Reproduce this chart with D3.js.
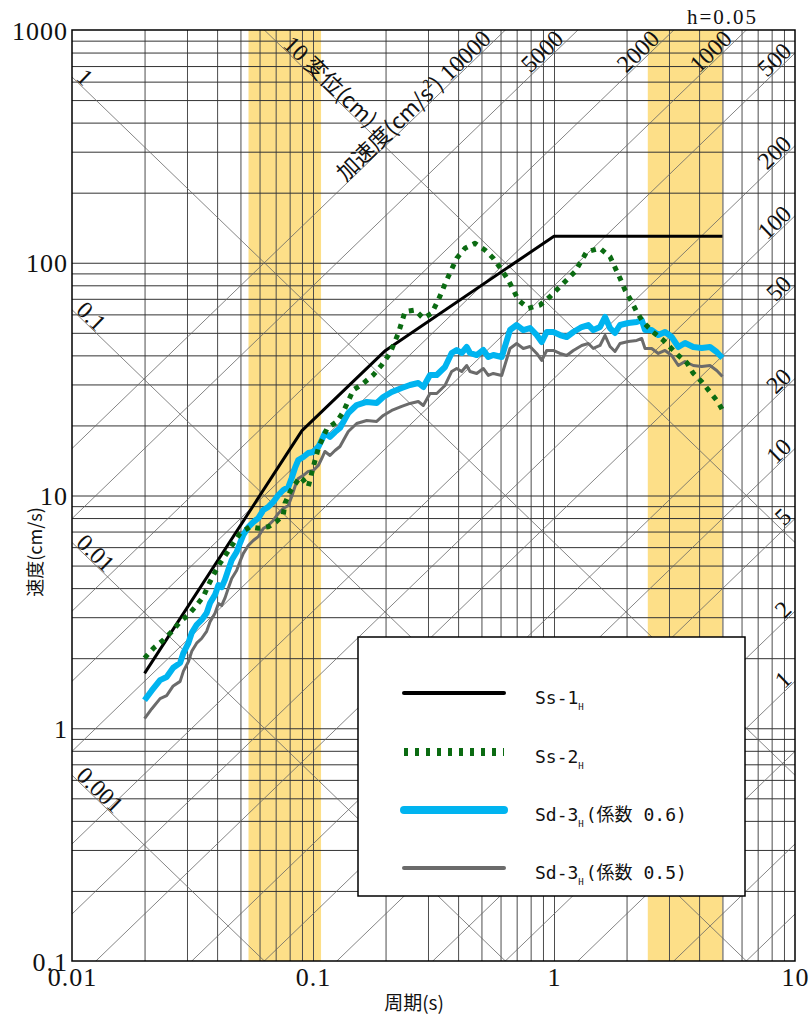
<!DOCTYPE html>
<html><head><meta charset="utf-8">
<script src="https://cdn.jsdelivr.net/npm/d3@7"></script>
<style>body{margin:0;background:#fff}</style>
</head><body>
<svg id="c" width="812" height="1018"></svg>
<script>
// ---------------- data ----------------
const periodSs1 = [0.02, 0.09, 0.2, 1.0, 5.0];
const velSs1    = [1.72, 19.0, 42.0, 130, 130];

const periodSs2 = [0.02,0.0218,0.0239,0.0259,0.0281,0.0304,0.0329,0.0351,0.0368,0.0386,
  0.0411,0.0439,0.0498,0.0548,0.0593,0.0652,0.0702,0.0753,0.0765,0.0803,
  0.0883,0.0912,0.0956,0.1003,0.1052,0.1140,0.1254,0.1336,0.1470,0.1617,
  0.1779,0.1928,0.2087,0.2259,0.2409,0.2650,0.2869,0.3108,0.3311,0.3588,
  0.3947,0.4272,0.4701,0.5171,0.5600,0.6067,0.6462,0.7111,0.7824,0.8749,
  0.9625,1.042,1.129,1.222,1.367,1.552,1.708,1.879,1.971,2.101,
  2.204,2.341,2.575,2.834,3.029,3.270,3.564,3.775,4.113,4.439,4.792,5.0];
const velSs2 = [2.00,2.21,2.39,2.60,2.87,3.07,3.38,3.68,4.12,4.55,
  5.11,5.65,6.88,7.34,7.23,7.34,7.69,8.25,9.26,10.38,
  12.01,11.66,10.91,13.30,15.95,19.31,20.75,22.91,28.40,30.34,
  32.94,36.37,40.83,49.77,61.62,62.66,57.71,60.64,69.17,84.32,
  104.5,115.4,121.2,113.4,104.5,93.06,84.32,69.17,63.72,65.83,
  71.46,77.65,84.32,91.51,111.5,115.4,106.2,85.76,76.36,68.00,
  61.62,55.64,50.41,46.57,43.45,40.14,37.10,33.60,30.73,27.84,25.22,23.29];

const periodSd3 = [0.02,0.0214,0.0232,0.0247,0.0263,0.0281,0.0290,0.0304,0.0314,0.0329,
  0.0345,0.0362,0.0374,0.0392,0.0405,0.0418,0.0431,0.0445,0.0460,0.0482,
  0.0498,0.0514,0.0539,0.0565,0.0593,0.0622,0.0652,0.0684,0.0718,0.0753,
  0.0790,0.0816,0.0842,0.0869,0.0912,0.0956,0.1003,0.1052,0.1087,0.1121,
  0.1176,0.1234,0.1294,0.1401,0.1518,0.1671,0.1838,0.1957,0.2121,0.2334,
  0.2526,0.2735,0.2869,0.3058,0.3261,0.3530,0.3763,0.3947,0.4140,0.4343,
  0.4482,0.4778,0.5088,0.5337,0.5600,0.6067,0.6567,0.7001,0.7457,0.7952,
  0.8478,0.8893,0.9327,0.9933,1.059,1.129,1.203,1.303,1.388,1.456,
  1.552,1.628,1.708,1.791,1.879,2.034,2.204,2.312,2.386,2.544,
  2.709,2.888,3.079,3.280,3.497,3.784,4.102,4.439,4.733,5.0];
const velSd3x06 = [1.32,1.45,1.61,1.66,1.82,1.91,2.11,2.32,2.57,2.78,
  2.92,3.13,3.45,3.74,4.12,4.04,4.34,4.79,5.28,5.72,
  6.25,6.77,7.32,7.69,8.00,8.66,8.93,9.38,10.05,10.56,
  10.88,11.89,13.13,14.21,14.64,15.23,15.38,16.16,17.31,18.56,
  17.84,18.74,19.50,22.61,24.48,25.22,24.98,26.50,27.84,28.97,
  29.84,30.43,29.25,32.94,32.94,35.66,40.95,42.19,40.95,43.45,
  40.95,40.14,42.19,39.36,40.14,39.36,51.40,54.01,51.40,52.43,
  48.93,45.65,50.41,50.41,48.93,47.97,50.41,52.95,54.01,51.40,
  52.95,58.48,52.43,49.91,54.01,55.09,55.64,56.75,51.40,51.40,
  48.93,50.41,47.97,43.45,45.20,43.45,43.02,43.45,41.35,38.96];
const velSd3x05 = [1.10,1.21,1.34,1.38,1.52,1.59,1.76,1.93,2.14,2.32,
  2.43,2.61,2.87,3.12,3.43,3.37,3.62,3.99,4.40,4.76,
  5.21,5.64,6.10,6.41,6.66,7.21,7.44,7.81,8.37,8.80,
  9.06,9.90,10.94,11.84,12.20,12.69,12.81,13.46,14.42,15.46,
  14.86,15.61,16.24,18.83,20.39,21.01,20.81,22.07,23.19,24.13,
  24.86,25.35,24.37,27.44,27.44,29.70,34.11,35.14,34.11,36.19,
  34.11,33.44,35.14,32.79,33.44,32.79,42.82,44.99,42.82,43.67,
  40.76,38.03,41.99,41.99,40.76,39.96,41.99,44.11,44.99,42.82,
  44.11,48.71,43.67,41.57,44.99,45.89,46.35,47.27,42.82,42.82,
  40.76,41.99,39.96,36.19,37.65,36.19,35.84,36.19,34.44,32.45];

const bandRanges = [[0.054, 0.108], [2.45, 5.0]];
const xTickValues = [0.01, 0.1, 1, 10];
const xTickLabels = ["0.01", "0.1", "1", "10"];
const yTickValues = [0.1, 1, 10, 100, 1000];
const yTickLabels = ["0.1", "1", "10", "100", "1000"];
const dispValues = [0.001, 0.01, 0.1, 1, 10];            // cm
const dispLabels = ["0.001", "0.01", "0.1", "1", "10"];
const accValues = [0.1,0.2,0.5,1,2,5,10,20,50,100,200,500,1000,2000,5000,10000]; // cm/s2
const accLabelValues = [1,2,5,10,20,50,100,200,500,1000,2000,5000,10000];
const legendNames = ["Ss-1", "Ss-2", "Sd-3", "Sd-3"];
const legendSuffix = ["", "", "(係数 0.6)", "(係数 0.5)"];

// ---------------- layout ----------------
const M = {left: 72, right: 795, top: 30, bottom: 961};
const x = d3.scaleLog().domain([0.01, 10]).range([M.left, M.right]);
const y = d3.scaleLog().domain([0.1, 1000]).range([M.bottom, M.top]);
const TWO_PI = 2 * Math.PI;
const svg = d3.select("#c");
const SERIF = "'Liberation Serif','DejaVu Serif',serif";
const CJK = "'Noto Sans CJK JP','Noto Sans CJK SC',sans-serif";
const MONO = "'DejaVu Sans Mono','Noto Sans CJK JP',monospace";

svg.append("defs").append("clipPath").attr("id", "clip")
  .append("rect").attr("x", M.left).attr("y", M.top)
  .attr("width", M.right - M.left).attr("height", M.bottom - M.top);
const plot = svg.append("g").attr("clip-path", "url(#clip)");

// bands
plot.selectAll("rect.band").data(bandRanges).enter().append("rect")
  .attr("x", d => x(d[0])).attr("width", d => x(d[1]) - x(d[0]))
  .attr("y", M.top).attr("height", M.bottom - M.top).attr("fill", "#fddf88");

// grid via axes
const gridX = [], gridY = [];
[0.01, 0.1, 1].forEach(dec => { for (let k = 2; k <= 9; k++) gridX.push(k * dec); });
[0.1, 1, 10, 100].forEach(dec => { for (let k = 2; k <= 9; k++) gridY.push(k * dec); });
gridX.push(0.1, 1); gridY.push(1, 10, 100);

const gx = svg.append("g").attr("transform", `translate(0,${M.bottom})`)
  .call(d3.axisBottom(x).tickValues(gridX).tickSize(-(M.bottom - M.top)).tickFormat(""));
gx.select(".domain").remove();
gx.selectAll("line").attr("stroke", "#4d4d4d").attr("stroke-width", 1);
const gy = svg.append("g").attr("transform", `translate(${M.left},0)`)
  .call(d3.axisLeft(y).tickValues(gridY).tickSize(-(M.right - M.left)).tickFormat(""));
gy.select(".domain").remove();
gy.selectAll("line").attr("stroke", "#333").attr("stroke-width", 1);

// tripartite diagonals
const diag = svg.append("g").attr("clip-path", "url(#clip)");
diag.selectAll("line.d").data(dispValues).enter().append("line")
  .attr("x1", x(0.01)).attr("y1", D => y(TWO_PI * D / 0.01))
  .attr("x2", x(10)).attr("y2", D => y(TWO_PI * D / 10))
  .attr("stroke", "#666").attr("stroke-width", 0.8);
diag.selectAll("line.a").data(accValues).enter().append("line")
  .attr("x1", x(0.01)).attr("y1", A => y(A * 0.01 / TWO_PI))
  .attr("x2", x(10)).attr("y2", A => y(A * 10 / TWO_PI))
  .attr("stroke", "#666").attr("stroke-width", 0.8);

// frame
svg.append("rect").attr("x", M.left).attr("y", M.top)
  .attr("width", M.right - M.left).attr("height", M.bottom - M.top)
  .attr("fill", "none").attr("stroke", "#000").attr("stroke-width", 1.5);

// diagonal labels
const ang = Math.atan2(y(10) - y(1), x(1) - x(0.1)) * 180 / Math.PI; // ~ -44
const labG = svg.append("g");
accLabelValues.forEach(A => {
  let ex = M.right - 2;
  let ey = y(A * x.invert(ex) / TWO_PI);
  if (ey - 12.5 < M.top) { ey = M.top + 12.5; ex = x(TWO_PI * y.invert(ey) / A); }
  const t = labG.append("text").attr("transform", `translate(${ex},${ey - 2}) rotate(${ang})`)
    .attr("text-anchor", "end").attr("font-family", SERIF).attr("font-size", 24).attr("fill", "#111");
  if (A === 10000) {
    t.append("tspan").attr("font-family", CJK).attr("font-size", 22).text("加速度(cm/s");
    t.append("tspan").attr("font-family", CJK).attr("font-size", 12).attr("dy", -10).text("2");
    t.append("tspan").attr("font-family", CJK).attr("font-size", 22).attr("dy", 10).text(")");
    t.append("tspan").text(" " + A);
  } else {
    t.text(String(A));
  }
});
dispValues.forEach((D, i) => {
  let bx = M.left + 3;
  let by = y(TWO_PI * D / x.invert(bx));
  if (by < M.top + 17) { by = M.top + 17; bx = x(TWO_PI * D / y.invert(by)); }
  const t = labG.append("text").attr("transform", `translate(${bx},${by - 1}) rotate(${-ang})`)
    .attr("font-family", SERIF).attr("font-size", 24).attr("fill", "#111");
  t.append("tspan").text(dispLabels[i]);
  if (D === 10) t.append("tspan").attr("font-family", CJK).attr("font-size", 22).text(" 変位(cm)");
});

// curves
const line = d3.line().x(d => x(d[0])).y(d => y(d[1]));
const curves = svg.append("g").attr("fill", "none").attr("stroke-linejoin", "round");
curves.append("path").datum(d3.zip(periodSd3, velSd3x05)).attr("d", line)
  .attr("stroke", "#6b6b6b").attr("stroke-width", 3);
curves.append("path").datum(d3.zip(periodSd3, velSd3x06)).attr("d", line)
  .attr("stroke", "#00b4f0").attr("stroke-width", 6);
curves.append("path").datum(d3.zip(periodSs1, velSs1)).attr("d", line)
  .attr("stroke", "#000").attr("stroke-width", 3);
curves.append("path").datum(d3.zip(periodSs2, velSs2)).attr("d", line)
  .attr("stroke", "#0b6b12").attr("stroke-width", 5).attr("stroke-dasharray", "5,6");

// axis labels
const ax = svg.append("g").attr("transform", `translate(0,${M.bottom})`)
  .call(d3.axisBottom(x).tickValues(xTickValues).tickSize(0).tickPadding(0)
    .tickFormat((d, i) => xTickLabels[i]));
ax.select(".domain").remove();
ax.selectAll("text").attr("font-family", SERIF).attr("font-size", 26).attr("fill", "#111")
  .attr("dy", null).attr("y", 25).attr("letter-spacing", 1);
const ay = svg.append("g").attr("transform", `translate(${M.left},0)`)
  .call(d3.axisLeft(y).tickValues(yTickValues).tickSize(0).tickPadding(4)
    .tickFormat((d, i) => yTickLabels[i]));
ay.select(".domain").remove();
ay.selectAll("text").attr("font-family", SERIF).attr("font-size", 26).attr("fill", "#111")
  .attr("dy", "0.35em").attr("letter-spacing", 1);

svg.append("text").attr("x", 414).attr("y", 1010).attr("text-anchor", "middle")
  .attr("font-family", CJK).attr("font-size", 19).attr("fill", "#111").text("周期(s)");
svg.append("text").attr("transform", "translate(42,552) rotate(-90)").attr("text-anchor", "middle")
  .attr("font-family", CJK).attr("font-size", 18).attr("fill", "#111").text("速度(cm/s)");
svg.append("text").attr("x", 687).attr("y", 24).attr("font-family", SERIF).attr("font-size", 21)
  .attr("letter-spacing", 2).attr("fill", "#111").text("h=0.05");

// legend
const lg = svg.append("g");
lg.append("rect").attr("x", 358).attr("y", 637).attr("width", 387).attr("height", 259)
  .attr("fill", "#fff").attr("stroke", "#000").attr("stroke-width", 1.5);
const legY = [693, 752, 810, 868];
const legStyles = [
  {stroke: "#000", w: 4, dash: null, cap: "round"},
  {stroke: "#0b6b12", w: 8, dash: "4,7", cap: "butt"},
  {stroke: "#00b4f0", w: 8, dash: null, cap: "round"},
  {stroke: "#6b6b6b", w: 4, dash: null, cap: "round"}
];
legendNames.forEach((nm, i) => {
  const s = legStyles[i];
  lg.append("line").attr("x1", 404).attr("x2", 504).attr("y1", legY[i]).attr("y2", legY[i])
    .attr("stroke", s.stroke).attr("stroke-width", s.w).attr("stroke-linecap", s.cap)
    .attr("stroke-dasharray", s.dash);
  const t = lg.append("text").attr("x", 535).attr("y", legY[i] + 11)
    .attr("font-family", MONO).attr("font-size", 18).attr("fill", "#111");
  t.append("tspan").text(nm);
  t.append("tspan").attr("font-size", 9).attr("dy", 6).text("H");
  if (legendSuffix[i]) t.append("tspan").attr("dy", -6).attr("dx", 2).text(legendSuffix[i]);
});
</script>
</body></html>
